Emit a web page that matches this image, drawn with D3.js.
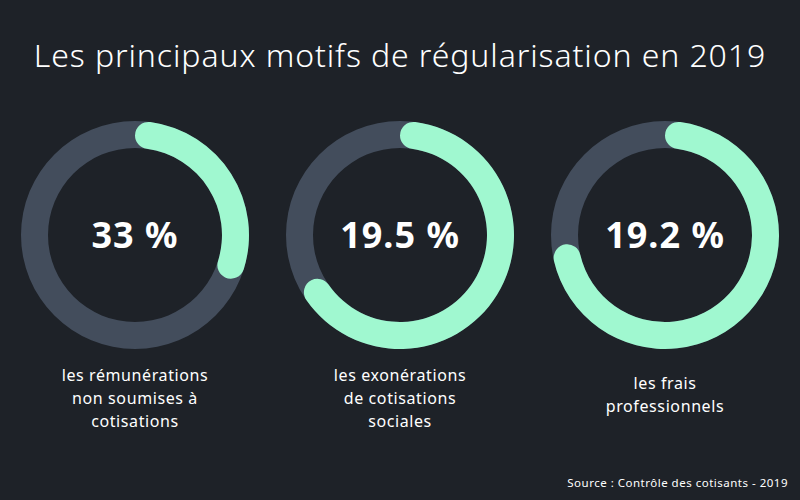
<!DOCTYPE html>
<html><head><meta charset="utf-8">
<script src="https://cdn.jsdelivr.net/npm/d3@7"></script>
<style>body{margin:0;background:#1e2228;font-family:"Noto Sans",sans-serif}</style>
</head><body><div id="c"></div>
<script>
const values = ["33 %", "19.5 %", "19.2 %"];
// share of ring filled, as drawn in the picture
const arcShare = [0.32, 0.675, 0.735];
const labels = [
  ["les rémunérations", "non soumises à", "cotisations"],
  ["les exonérations", "de cotisations", "sociales"],
  ["les frais", "professionnels"]
];

const width = 800, height = 500;
const svg = d3.select("#c").append("svg").attr("width", width).attr("height", height);
svg.append("rect").attr("width", width).attr("height", height).attr("fill", "#1e2228");

svg.append("text").attr("x", 400).attr("y", 67).attr("text-anchor", "middle")
  .attr("fill", "#fff").attr("font-size", 32).attr("font-weight", 300).attr("letter-spacing", 0.9)
  .text("Les principaux motifs de régularisation en 2019");

const x = d3.scalePoint().domain(d3.range(values.length)).range([135, 665]);
const cy = 235, rOut = 114, rIn = 87;
const track = d3.arc().innerRadius(rIn).outerRadius(rOut).startAngle(0).endAngle(2 * Math.PI);
const fill = d3.arc().innerRadius(rIn).outerRadius(rOut).cornerRadius(14).startAngle(0);

const g = svg.selectAll("g.d").data(values).join("g").attr("class", "d")
  .attr("transform", (d, i) => `translate(${x(i)},${cy})`);
g.append("path").attr("d", track).attr("fill", "#434d5c");
g.append("path").attr("d", (d, i) => fill({ endAngle: arcShare[i] * 2 * Math.PI })).attr("fill", "#a0f8d0");
g.append("text").attr("y", 13).attr("text-anchor", "middle").attr("fill", "#fff")
  .attr("font-size", 36).attr("font-weight", 700).attr("letter-spacing", 1).text(d => d);
g.each(function (d, i) {
  const t = d3.select(this).append("text").attr("text-anchor", "middle").attr("fill", "#fff")
    .attr("font-size", 16).attr("letter-spacing", 0.6);
  const y0 = labels[i].length === 3 ? 146 : 154;
  labels[i].forEach((l, j) => t.append("tspan").attr("x", 0).attr("y", y0 + j * 23).text(l));
});

svg.append("text").attr("x", 788).attr("y", 487).attr("text-anchor", "end").attr("fill", "#fff")
  .attr("font-size", 11.5).attr("letter-spacing", 0.5).text("Source : Contrôle des cotisants - 2019");
</script></body></html>
